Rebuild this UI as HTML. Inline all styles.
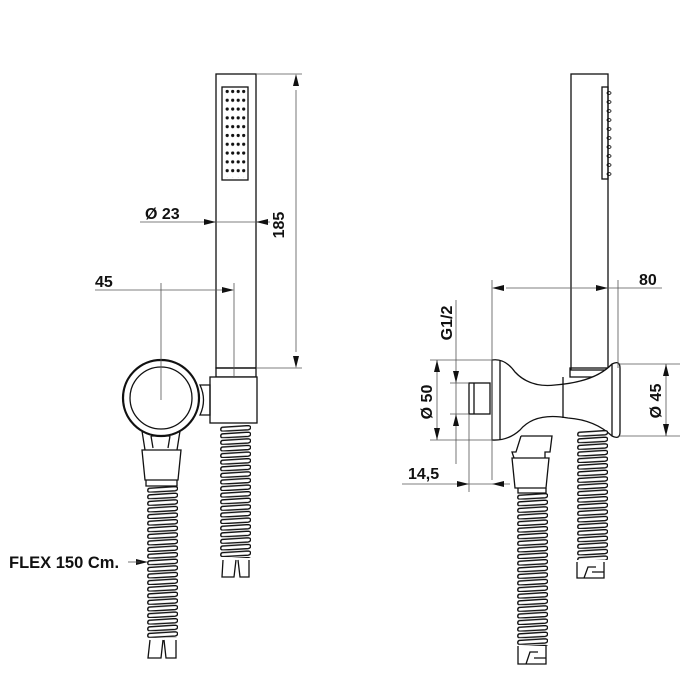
<!DOCTYPE html>
<html><head><meta charset="utf-8"><style>
html,body{margin:0;padding:0;background:#fff;}
svg{display:block;}
text{font-family:"Liberation Sans",Arial,sans-serif;font-weight:bold;font-size:16px;fill:#111;}
</style></head><body>
<svg width="700" height="700" viewBox="0 0 700 700" xmlns="http://www.w3.org/2000/svg">
<defs>
<pattern id="coil" patternUnits="userSpaceOnUse" width="32" height="6.6">
<path d="M2.5,2.2 L28,0.6 Q31,0.8 30.5,3 Q30,4.6 28,4.8 L3,6.2 Q0.5,6.2 0.8,4 Q1,2.4 2.5,2.2 Z" fill="#fff" stroke="#111" stroke-width="1.4"/>
</pattern>
<pattern id="dots" patternUnits="userSpaceOnUse" x="225" y="89" width="5.5" height="8.8"><circle cx="2.2" cy="2.5" r="1.6" fill="#111"/></pattern>
</defs>
<g fill="none" stroke="#111" stroke-width="1.3">
<rect x="216" y="74" width="40" height="294" fill="#fff"/>
<rect x="222" y="87" width="26" height="93"/>
<rect x="224" y="88" width="22" height="90" fill="url(#dots)" stroke="none"/>
<rect x="216" y="368" width="40" height="9"/>
<rect x="210" y="377" width="47" height="46" fill="#fff"/>
<path d="M200,385 L210,385 L210,415 L200,415 Q207,400 200,385 Z"/>
<circle cx="161" cy="398" r="38" stroke-width="2.2"/>
<circle cx="161" cy="398" r="31"/>
<path d="M142,431 L145,450 M180,431 L177,450"/>
<path d="M151,436 L153,448 M170,436 L168,448 M151,436 L170,436"/>
<path d="M142,450 L181,450 L178,480 L145,480 Z" fill="#fff"/>
<path d="M146,480 L146,486 L177,486 L177,480"/>
<g transform="translate(147,486)"><rect x="0" y="0" width="31" height="152" fill="url(#coil)" stroke="none"/></g>
<path d="M150,640 L148,658 L161,658 L163,640 M164,640 L166,658 L176,658 L176,640"/>
<g transform="translate(220,425)"><rect x="0" y="0" width="31" height="133" fill="url(#coil)" stroke="none"/></g>
<path d="M223,560 L222,577 L234,577 L236,560 M238,560 L240,577 L249,577 L249,560"/>

<rect x="571" y="74" width="37" height="296" fill="#fff"/>
<rect x="602" y="87" width="6" height="92"/>
<g stroke-width="0.9">
<ellipse cx="609" cy="93" rx="2" ry="1.4"/><ellipse cx="609" cy="102" rx="2" ry="1.4"/><ellipse cx="609" cy="111" rx="2" ry="1.4"/><ellipse cx="609" cy="120" rx="2" ry="1.4"/><ellipse cx="609" cy="129" rx="2" ry="1.4"/><ellipse cx="609" cy="138" rx="2" ry="1.4"/><ellipse cx="609" cy="147" rx="2" ry="1.4"/><ellipse cx="609" cy="156" rx="2" ry="1.4"/><ellipse cx="609" cy="165" rx="2" ry="1.4"/><ellipse cx="609" cy="174" rx="2" ry="1.4"/>
</g>
<rect x="570" y="368" width="40" height="9"/>
<path d="M492,360 Q505,358 515,372 Q530,388 555,385 Q595,382 612,364 Q620,360 620,368 L620,432 Q620,440 612,436 Q595,420 568,418 Q535,412 520,430 Q508,441 492,440 Z" fill="#fff"/>
<path d="M500,361 L500,440 M612,364 L612,436"/>
<path d="M563,377 L563,418"/>
<rect x="469" y="383" width="21" height="31" fill="#fff"/>
<path d="M474,383 L474,414"/>
<path d="M521,436 L552,436 L550,452 L545,452 L545,458 M521,436 L516,452 L512,452 L514,458"/>
<path d="M512,458 L549,458 L546,488 L515,488 Z" fill="#fff"/>
<path d="M518,488 L518,493 L546,493 L546,488"/>
<g transform="translate(517,493)"><rect x="0" y="0" width="31" height="153" fill="url(#coil)" stroke="none"/></g>
<path d="M518,646 L518,664 L546,664 L546,646 M526,664 L530,652 L538,652 M534,658 L546,658"/>
<g transform="translate(577,430)"><rect x="0" y="0" width="31" height="130" fill="url(#coil)" stroke="none"/></g>
<path d="M577,562 L577,578 L604,578 L604,562 M584,578 L588,567 L596,567 M592,572 L604,572"/>
</g>

<g stroke="#555" stroke-width="0.8" fill="none">
<path d="M256,74 L302,74 M256,368 L302,368"/>
<line x1="296" y1="90" x2="296" y2="352"/>
<line x1="140" y1="222" x2="270" y2="222"/>
<line x1="95" y1="290" x2="222" y2="290"/>
<path d="M161,283 L161,400 M234,283 L234,378"/>
<line x1="506" y1="288" x2="662" y2="288"/>
<path d="M492,280 L492,480 M618,280 L618,368"/>
<path d="M430,360 L492,360 M430,440 L492,440"/>
<line x1="437" y1="360" x2="437" y2="440"/>
<path d="M456,300 L456,464 M450,383 L469,383 M450,414 L469,414"/>
<path d="M618,364 L680,364 M618,436 L680,436"/>
<line x1="666" y1="364" x2="666" y2="436"/>
<line x1="402" y1="484" x2="510" y2="484"/>
<path d="M469,414 L469,492"/>
</g>
<g fill="#111">
<path d="M296,74 L293,86 L299,86 Z"/><path d="M296,368 L293,356 L299,356 Z"/>
<path d="M216,222 L204,219 L204,225 Z"/><path d="M256,222 L268,219 L268,225 Z"/>
<path d="M234,290 L222,287 L222,293 Z"/>
<path d="M492,288 L504,285 L504,291 Z"/><path d="M608,288 L596,285 L596,291 Z"/>
<path d="M437,360 L434,372 L440,372 Z"/><path d="M437,440 L434,428 L440,428 Z"/>
<path d="M456,383 L453,371 L459,371 Z"/><path d="M456,414 L453,426 L459,426 Z"/>
<path d="M666,364 L663,376 L669,376 Z"/><path d="M666,436 L663,424 L669,424 Z"/>
<path d="M469,484 L457,481 L457,487 Z"/><path d="M492,484 L504,481 L504,487 Z"/>
<path d="M148,562 L136,559 L136,565 Z"/>
</g>
<line x1="128" y1="562" x2="140" y2="562" stroke="#555" stroke-width="0.8"/>
<text x="284" y="225" transform="rotate(-90 284 225)" text-anchor="middle">185</text>
<text x="145" y="219">Ø 23</text>
<text x="95" y="287">45</text>
<text x="639" y="285">80</text>
<text x="452" y="323" transform="rotate(-90 452 323)" text-anchor="middle">G1/2</text>
<text x="432" y="402" transform="rotate(-90 432 402)" text-anchor="middle">Ø 50</text>
<text x="661" y="401" transform="rotate(-90 661 401)" text-anchor="middle">Ø 45</text>
<text x="408" y="479">14,5</text>
<text x="9" y="568" style="font-size:16.5px">FLEX 150 Cm.</text>
</svg>
</body></html>
